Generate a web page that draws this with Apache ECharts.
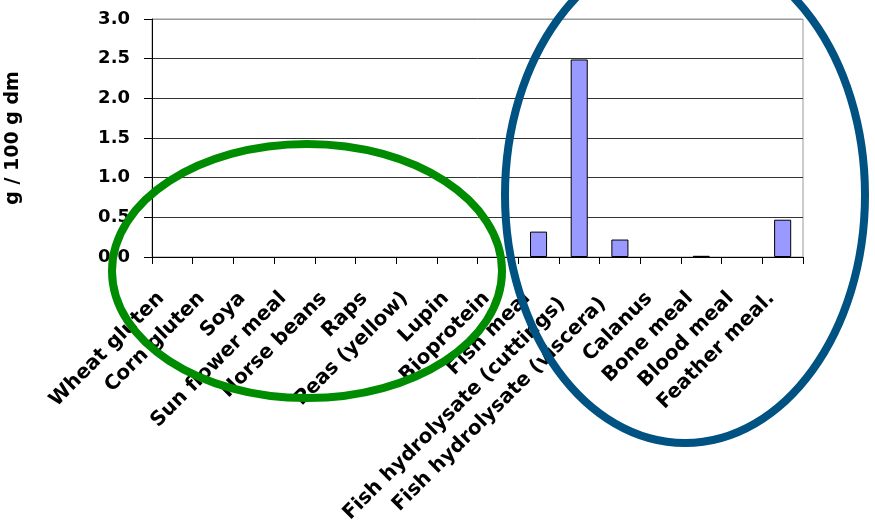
<!DOCTYPE html>
<html>
<head>
<meta charset="utf-8">
<script src="https://cdn.jsdelivr.net/npm/echarts@6/dist/echarts.min.js"></script>
<style>
html,body{margin:0;padding:0;background:#fff;}
#chart{width:875px;height:526px;}
</style>
</head>
<body>
<div id="chart"></div>
<script>
const categories = ['Wheat gluten','Corn gluten','Soya','Sun flower meal','Horse beans','Raps','Peas (yellow)','Lupin','Bioprotein','Fish meal','Fish hydrolysate (cuttings)','Fish hydrolysate (viscera)','Calanus','Bone meal','Blood meal','Feather meal.'];
const values = [0,0,0,0,0,0,0,0,0,0.32,2.49,0.22,0,0.015,0,0.47];
const yTicks = [0,0.5,1.0,1.5,2.0,2.5,3.0];
const yName = 'g / 100 g dm';

const FONT = 'DejaVu Sans';
const longLabels = ['Fish hydrolysate (cuttings)','Fish hydrolysate (viscera)'];
const catData = categories.map(c => longLabels.includes(c)
  ? {value:c, textStyle:{padding:[0,24,0,0]}}
  : {value:c, textStyle:{padding:[0,16,0,0]}});
const barData = values.map(v => v === 0 ? {value:v, itemStyle:{borderWidth:0}} : v);

const chart = echarts.init(document.getElementById('chart'), null, {renderer:'canvas'});
chart.setOption({
  animation:false,
  backgroundColor:'#ffffff',
  grid:{left:152, right:72, top:19, bottom:269, containLabel:false, outerBoundsMode:'none',
    show:true, borderColor:'#999', borderWidth:1, backgroundColor:'transparent'},
  xAxis:{
    type:'category',
    data:catData,
    boundaryGap:true,
    axisLine:{show:true, lineStyle:{color:'#000', width:1}},
    axisTick:{show:true, length:7, alignWithLabel:false, lineStyle:{color:'#000'}},
    axisLabel:{rotate:45, interval:0, margin:27, color:'#000', fontFamily:FONT, fontWeight:'bold', fontSize:20},
    splitLine:{show:false}
  },
  yAxis:{
    type:'value',
    min:yTicks[0], max:yTicks[yTicks.length-1], interval:0.5,
    name:yName, nameLocation:'middle', nameGap:129, nameRotate:90,
    nameTextStyle:{color:'#000', fontFamily:FONT, fontWeight:'bold', fontSize:19},
    axisLine:{show:true, lineStyle:{color:'#000', width:1}},
    axisTick:{show:true, length:8, inside:false, lineStyle:{color:'#000'}},
    axisLabel:{margin:22, color:'#000', fontFamily:FONT, fontWeight:'bold', fontSize:18,
      formatter:v => v.toFixed(1)},
    splitLine:{show:true, lineStyle:{color:['#333','#333','#333','#333','#333','#333','#999'], width:1}}
  },
  series:[{
    type:'bar',
    data:barData,
    barWidth:'42%',
    itemStyle:{color:'#9999ff', borderColor:'#000', borderWidth:1}
  }],
  graphic:[
    {type:'ellipse', z:100, shape:{cx:307, cy:271, rx:195, ry:127},
      style:{fill:'none', stroke:'#008c00', lineWidth:8}},
    {type:'ellipse', z:100, shape:{cx:685, cy:195, rx:180, ry:248},
      style:{fill:'none', stroke:'#005282', lineWidth:8}}
  ]
});
</script>
</body>
</html>
